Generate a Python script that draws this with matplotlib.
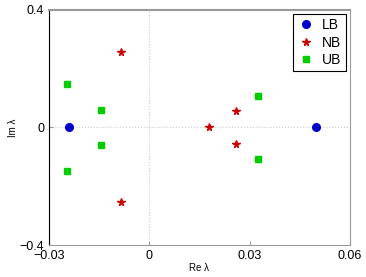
import matplotlib
matplotlib.use("Agg")
import matplotlib.pyplot as plt

# eigenvalues
lb_re = [-0.024, 0.050]
lb_im = [0.0, 0.0]
nb_re = [-0.0085, -0.0085, 0.018, 0.026, 0.026]
nb_im = [0.257, -0.254, 0.0, 0.056, -0.056]
ub_re = [-0.0246, -0.0246, -0.0145, -0.0145, 0.0325, 0.0325]
ub_im = [0.148, -0.148, 0.06, -0.06, 0.107, -0.107]

xticks = [-0.03, 0, 0.03, 0.06]
yticks = [-0.4, 0, 0.4]

plt.rcParams["font.family"] = ["Liberation Sans", "DejaVu Sans"]

fig = plt.figure(figsize=(3.66, 2.77), dpi=100)
ax = fig.add_axes([0.134, 0.1155, 0.822, 0.849])

ax.axhline(0, color="#cccccc", linestyle=":", linewidth=0.8, zorder=0)
ax.axvline(0, color="#cccccc", linestyle=":", linewidth=0.8, zorder=0)

ax.plot(lb_re, lb_im, "o", color="#0000cc", markersize=5.5, linestyle="none", label="LB")
ax.plot(nb_re, nb_im, "*", color="#cc0000", markersize=5.5, linestyle="none", label="NB")
ax.plot(ub_re, ub_im, "s", color="#00cc00", markersize=4.5, linestyle="none", label="UB")

ax.set_xlim(-0.03, 0.06)
ax.set_ylim(-0.4, 0.4)
ax.set_xticks(xticks)
ax.set_xticklabels(["\u22120.03", "0", "0.03", "0.06"])
ax.set_yticks(yticks)
ax.set_yticklabels(["\u22120.4", "0", "0.4"])
ax.tick_params(labelsize=9, direction="in", length=3, colors="#999999", labelcolor="black")

for side in ["top", "right", "bottom"]:
    ax.spines[side].set_color("#999999")
ax.spines["top"].set_linewidth(1.5)
ax.spines["left"].set_color("black")

ax.set_xlabel("Re \u03bb", fontsize=7, labelpad=1)
ax.set_ylabel("Im \u03bb", fontsize=7, labelpad=1)

leg = ax.legend(loc="upper right", fontsize=10, fancybox=False, framealpha=1,
                edgecolor="black", handlelength=1.2, borderpad=0.3, labelspacing=0.25,
                handletextpad=0.6, borderaxespad=0.3)
leg.get_frame().set_linewidth(0.8)

fig.savefig("out.png", dpi=100)
